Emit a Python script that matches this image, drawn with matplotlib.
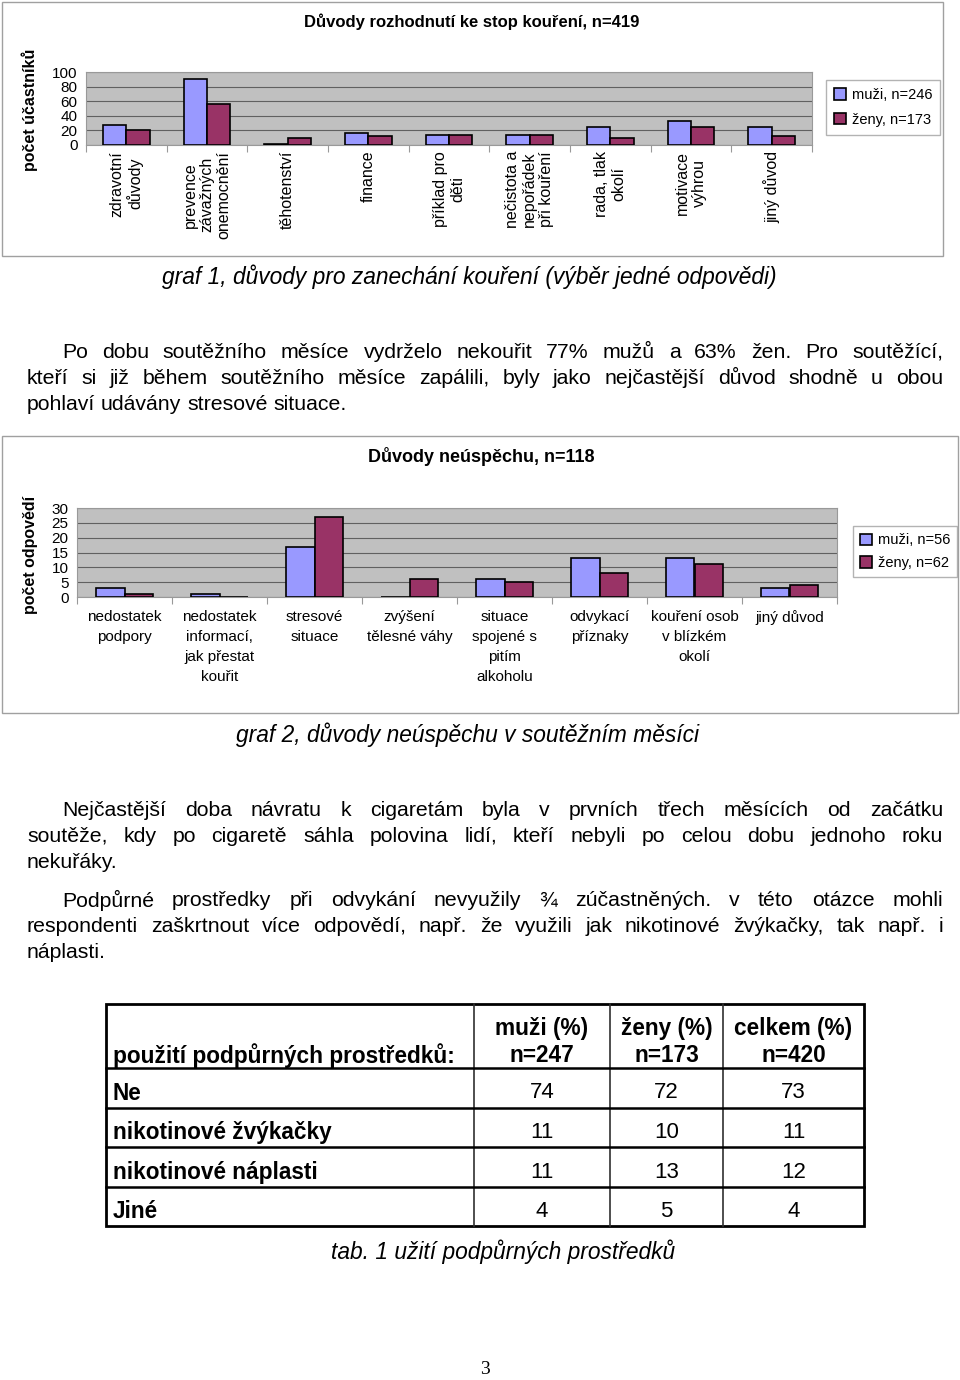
import matplotlib
matplotlib.use('Agg')
import matplotlib.pyplot as plt
from matplotlib.patches import Rectangle
import numpy as np

plt.rcParams['font.family'] = ['Liberation Sans', 'DejaVu Sans']

W, H = 960, 1380
MUZI_COLOR = '#9999FF'
ZENY_COLOR = '#993366'
PLOT_BG = '#C0C0C0'

# graf 1 - duvody rozhodnuti ke stop koureni
stop_categories = ['zdravotní\ndůvody', 'prevence\nzávažných\nonemocnění', 'těhotenství',
                   'finance', 'příklad pro\nděti', 'nečistota a\nnepořádek\npři kouření',
                   'rada, tlak\nokolí', 'motivace\nvýhrou', 'jiný důvod']
stop_muzi = [27, 90, 2, 17, 14, 14, 24, 33, 25]
stop_zeny = [21, 56, 10, 12, 14, 14, 9, 25, 13]
stop_ticks = [0, 20, 40, 60, 80, 100]

# graf 2 - duvody neuspechu
fail_categories = ['nedostatek\npodpory', 'nedostatek\ninformací,\njak přestat\nkouřit',
                   'stresové\nsituace', 'zvýšení\ntělesné váhy', 'situace\nspojené s\npitím\nalkoholu',
                   'odvykací\npříznaky', 'kouření osob\nv blízkém\nokolí', 'jiný důvod']
fail_muzi = [3, 1, 17, 0, 6, 13, 13, 3]
fail_zeny = [1, 0, 27, 6, 5, 8, 11, 4]
fail_ticks = [0, 5, 10, 15, 20, 25, 30]

# tabulka 1
table_header = ['použití podpůrných prostředků:', 'muži (%)\nn=247', 'ženy (%)\nn=173', 'celkem (%)\nn=420']
table_rows = ['Ne', 'nikotinové žvýkačky', 'nikotinové náplasti', 'Jiné']
table_muzi = [74, 11, 11, 4]
table_zeny = [72, 10, 13, 5]
table_celkem = [73, 11, 12, 4]

para1 = ['Po dobu soutěžního měsíce vydrželo nekouřit 77% mužů a 63% žen. Pro soutěžící,',
         'kteří si již během soutěžního měsíce zapálili, byly jako nejčastější důvod shodně u obou',
         'pohlaví udávány stresové situace.']
para2 = ['Nejčastější doba návratu k cigaretám byla v prvních třech měsících od začátku',
         'soutěže, kdy po cigaretě sáhla polovina lidí, kteří nebyli po celou dobu jednoho roku',
         'nekuřáky.']
para3 = ['Podpůrné prostředky při odvykání nevyužily ¾ zúčastněných. v této otázce mohli',
         'respondenti zaškrtnout více odpovědí, např. že využili jak nikotinové žvýkačky, tak např. i',
         'náplasti.']

fig = plt.figure(figsize=(W / 100, H / 100), dpi=100)
page = fig.add_axes([0, 0, 1, 1])
page.set_xlim(0, W)
page.set_ylim(H, 0)
page.axis('off')


def px_axes(l, t, r, b):
    return fig.add_axes([l / W, 1 - b / H, (r - l) / W, (b - t) / H])


def bar_chart(ax, cats, muzi, zeny, ticks, bw, tick_size):
    x = np.arange(len(cats))
    ax.set_facecolor(PLOT_BG)
    b1 = ax.bar(x - bw / 2, muzi, bw, color=MUZI_COLOR, edgecolor='black', linewidth=1.2, zorder=3)
    b2 = ax.bar(x + bw / 2, zeny, bw, color=ZENY_COLOR, edgecolor='black', linewidth=1.2, zorder=3)
    ax.set_xlim(-0.5, len(cats) - 0.5)
    ax.set_ylim(ticks[0], ticks[-1])
    ax.set_yticks(ticks)
    ax.yaxis.grid(True, color='#606060', linewidth=0.8, zorder=1)
    ax.tick_params(axis='y', length=0, pad=6, labelsize=tick_size)
    # small ticks between categories, like excel
    ax.set_xticks(np.arange(len(cats) + 1) - 0.5)
    ax.set_xticklabels([])
    ax.tick_params(axis='x', length=5, color='#999999', direction='out')
    for s in ax.spines.values():
        s.set_color('#999999')
    return b1, b2


# ---- graf 1 ----
page.add_patch(Rectangle((2, 2), 941, 254, fill=False, edgecolor='#A0A0A0', linewidth=1))
page.text(472, 22, 'Důvody rozhodnutí ke stop kouření, n=419', ha='center', va='center',
          fontsize=12, fontweight='bold')
page.text(30, 110, 'počet účastníků', rotation=90, ha='center', va='center', fontsize=11.5, fontweight='bold')
ax1 = px_axes(86, 72, 812, 145)
b1, b2 = bar_chart(ax1, stop_categories, stop_muzi, stop_zeny, stop_ticks, 0.29, 11)
for i, lab in enumerate(stop_categories):
    ax1.text(i, -8, lab, rotation=90, ha='center', va='top', multialignment='center',
             fontsize=11.5, linespacing=1.15, clip_on=False)
fig.legend([b1, b2], ['muži, n=246', 'ženy, n=173'], loc='upper left',
           bbox_to_anchor=(826 / W, 1 - 80 / H), frameon=True, fancybox=False,
           edgecolor='#A0A0A0', fontsize=10.5, handlelength=0.8, handleheight=0.8,
           handletextpad=0.4, borderpad=0.55, labelspacing=0.75, borderaxespad=0)

page.text(469, 277, 'graf 1, důvody pro zanechání kouření (výběr jedné odpovědi)', ha='center',
          va='center', fontsize=16.4, style='italic')


def justify(lines, y0, step=26, size=15.3):
    # justified paragraph, first line indented, last line left aligned
    r = fig.canvas.get_renderer()
    sp = page.text(0, 0, 'a a', fontsize=size)
    nsp = page.text(0, 0, 'aa', fontsize=size)
    space = sp.get_window_extent(r).width - nsp.get_window_extent(r).width
    sp.remove()
    nsp.remove()
    for k, line in enumerate(lines):
        y = y0 + k * step
        x0 = 62 if k == 0 else 27
        words = line.split(' ')
        texts = [page.text(0, y, w, fontsize=size, va='center', ha='left') for w in words]
        widths = [t.get_window_extent(r).width for t in texts]
        if k < len(lines) - 1:
            gap = (943 - x0 - sum(widths)) / (len(words) - 1)
        else:
            gap = space
        x = x0
        for t, w in zip(texts, widths):
            t.set_x(x)
            x += w + gap


justify(para1, 352)

# ---- graf 2 ----
page.add_patch(Rectangle((2, 436), 956, 277, fill=False, edgecolor='#A0A0A0', linewidth=1))
page.text(481, 457, 'Důvody neúspěchu, n=118', ha='center', va='center', fontsize=13, fontweight='bold')
page.text(30, 555, 'počet odpovědí', rotation=90, ha='center', va='center', fontsize=11.5, fontweight='bold')
ax2 = px_axes(77, 508, 837, 597)
c1, c2 = bar_chart(ax2, fail_categories, fail_muzi, fail_zeny, fail_ticks, 0.3, 11)
for i, lab in enumerate(fail_categories):
    ax2.text(i, -4.3, lab, ha='center', va='top', multialignment='center',
             fontsize=11, linespacing=1.55, clip_on=False)
fig.legend([c1, c2], ['muži, n=56', 'ženy, n=62'], loc='upper left',
           bbox_to_anchor=(853 / W, 1 - 526 / H), frameon=True, fancybox=False,
           edgecolor='#A0A0A0', fontsize=10.5, handlelength=0.8, handleheight=0.8,
           handletextpad=0.4, borderpad=0.5, labelspacing=0.6, borderaxespad=0)

page.text(468, 735, 'graf 2, důvody neúspěchu v soutěžním měsíci', ha='center',
          va='center', fontsize=16.4, style='italic')

justify(para2, 810)
justify(para3, 900)

# ---- tabulka ----
xs = [106, 474, 610, 723, 864]
ys = [1004, 1068, 1108, 1147, 1187, 1226]
for x in xs[1:-1]:
    page.plot([x, x], [ys[0], ys[-1]], color='#303030', linewidth=1.2)
for y in ys[1:-1]:
    page.plot([xs[0], xs[-1]], [y, y], color='black', linewidth=1.8)
page.add_patch(Rectangle((xs[0], ys[0]), xs[-1] - xs[0], ys[-1] - ys[0], fill=False,
                         edgecolor='black', linewidth=2))
page.text(113, 1056, table_header[0], ha='left', va='center', fontsize=16.3, fontweight='bold')
for j in range(1, 4):
    cx = (xs[j] + xs[j + 1]) / 2
    page.text(cx, 1042, table_header[j], ha='center', va='center', fontsize=16.3,
              fontweight='bold', linespacing=1.2)
for i, name in enumerate(table_rows):
    cy = (ys[i + 1] + ys[i + 2]) / 2 + 5
    page.text(113, cy, name, ha='left', va='center', fontsize=16.3, fontweight='bold')
    for j, vals in enumerate([table_muzi, table_zeny, table_celkem]):
        cx = (xs[j + 1] + xs[j + 2]) / 2
        page.text(cx, cy, str(vals[i]), ha='center', va='center', fontsize=16)

page.text(503, 1252, 'tab. 1 užití podpůrných prostředků', ha='center', va='center',
          fontsize=16.4, style='italic')
page.text(485, 1370, '3', ha='center', va='center', fontsize=14, family='Liberation Serif')

fig.savefig('out.png', dpi=100)
